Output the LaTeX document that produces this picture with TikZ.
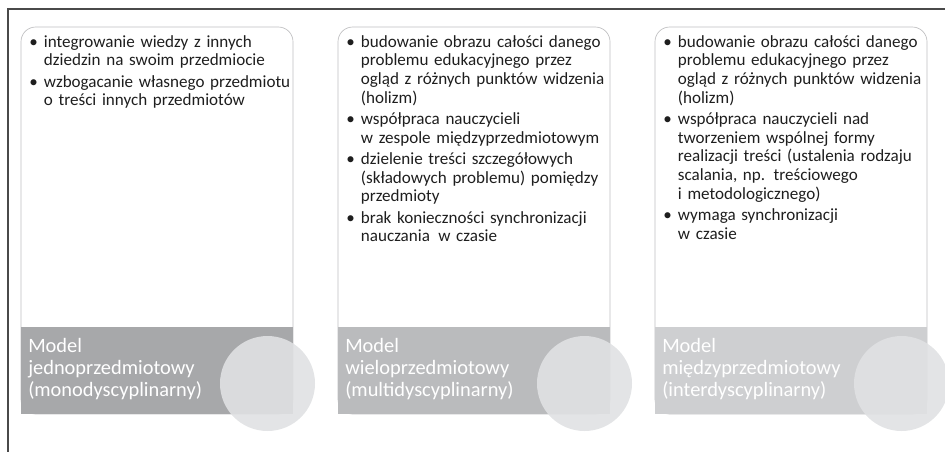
\documentclass[tikz,border=0pt]{standalone}
\usepackage{fontspec}
\setmainfont{Carlito}
\usetikzlibrary{positioning}

\definecolor{framegray}{RGB}{74,74,74}
\definecolor{edgegray}{RGB}{190,190,192}
\definecolor{bandone}{RGB}{167,168,170}
\definecolor{bandtwo}{RGB}{186,187,189}
\definecolor{bandthree}{RGB}{206,207,209}
\definecolor{discgray}{RGB}{224,225,227}
\definecolor{textgray}{RGB}{30,30,30}

\newcommand{\pkt}[1]{\hangindent=11pt\hangafter=1\noindent\makebox[11pt][l]{\textbullet}#1\par}

\begin{document}
\begin{tikzpicture}[x=0.75pt,y=-0.75pt,
	frame/.style = {draw=framegray, line width=1.5pt},
	card/.style = {draw=edgegray, line width=0.5pt, rounded corners=11pt},
	items/.style = {anchor=north west, inner sep=0pt, text width=200pt, text=textgray,
		font=\fontsize{12.8}{14}\selectfont\setlength{\parskip}{2pt}},
	title/.style = {anchor=north west, inner sep=0pt, align=left, text=white,
		font=\fontsize{15.3}{16.5}\selectfont},
	disc/.style = {circle, fill=discgray, fill opacity=0.9, minimum size=71.25pt, inner sep=0pt}]
	\clip (0,0) rectangle (945,451);
	\draw[frame] (8,470) -- (8,9) -- (960,9);

	% panel 1
	\draw[card] (21,414) -- (21,27) -- (293,27) -- (293,414) -- cycle;
	\fill[bandone] (21,327) rectangle (293,414);
	\node[items] (list1) at (29,35) {%
		\pkt{integrowanie wiedzy z innych\newline dziedzin na swoim przedmiocie}
		\pkt{wzbogacanie własnego przedmiotu\newline o treści innych przedmiotów}};
	\node[title] (model1) at (28,338) {Model\\jednoprzedmiotowy\\(monodyscyplinarny)};
	\node[disc] (disc1) at (267.5,383.5) {};

	% panel 2
	\draw[card] (338,414) -- (338,27) -- (610,27) -- (610,414) -- cycle;
	\fill[bandtwo] (338,327) rectangle (610,414);
	\node[items] (list2) at (346,35) {%
		\pkt{budowanie obrazu całości danego\newline problemu edukacyjnego przez\newline ogląd z różnych punktów widzenia\newline (holizm)}
		\pkt{współpraca nauczycieli\newline w zespole międzyprzedmiotowym}
		\pkt{dzielenie treści szczegółowych\newline (składowych problemu) pomiędzy\newline przedmioty}
		\pkt{brak konieczności synchronizacji\newline nauczania\hspace{2pt} w czasie}};
	\node[title] (model2) at (345,338) {Model\\wieloprzedmiotowy\\(multidyscyplinarny)};
	\node[disc] (disc2) at (584.5,383.5) {};

	% panel 3
	\draw[card] (655,414) -- (655,27) -- (927,27) -- (927,414) -- cycle;
	\fill[bandthree] (655,327) rectangle (927,414);
	\node[items] (list3) at (663,35) {%
		\pkt{budowanie obrazu całości danego\newline problemu edukacyjnego przez\newline ogląd z różnych punktów widzenia\newline (holizm)}
		\pkt{współpraca nauczycieli nad\newline tworzeniem wspólnej formy\newline realizacji treści (ustalenia rodzaju\newline scalania, np. treściowego\newline i metodologicznego)}
		\pkt{wymaga synchronizacji\newline w czasie}};
	\node[title] (model3) at (662,338) {Model\\międzyprzedmiotowy\\(interdyscyplinarny)};
	\node[disc] (disc3) at (901.5,383.5) {};
\end{tikzpicture}
\end{document}
